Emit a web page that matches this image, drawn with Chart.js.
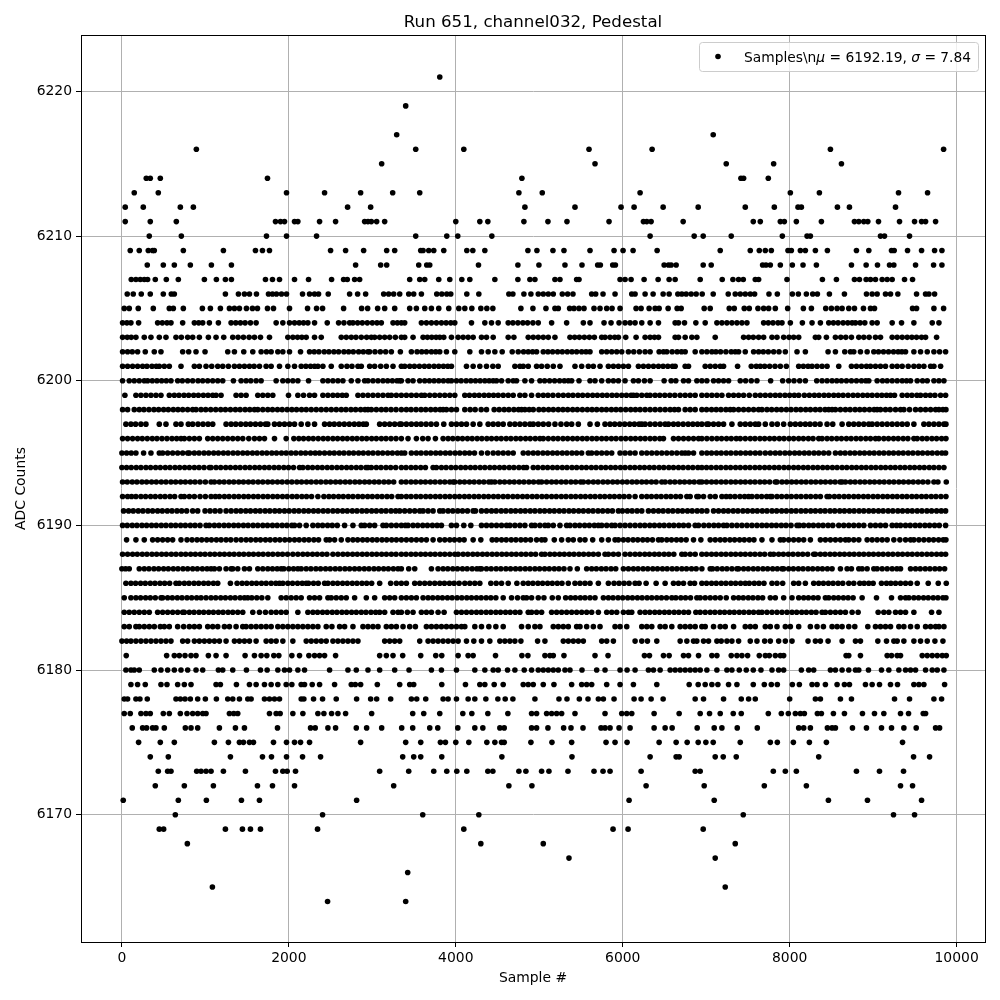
<!DOCTYPE html>
<html>
<head>
<meta charset="utf-8">
<title>Run 651, channel032, Pedestal</title>
<script src="https://cdn.jsdelivr.net/npm/chart.js@4/dist/chart.umd.min.js"></script>
<style>
  html, body { margin: 0; padding: 0; background: #fff; }
  canvas { display: block; }
</style>
</head>
<body>
<canvas id="myChart" width="1000" height="1000"></canvas>
<script>
// sample numbers, one list per ADC level
const adc6221 = [3808];
const adc6219 = [3400];
const adc6217 = [3292, 7084];
const adc6216 = [892, 3520, 4096, 5596, 6352, 8488, 9844];
const adc6215 = [3112, 5668, 7240, 7808, 8620];
const adc6214 = [292, 340, 460, 1744, 4792, 7416, 7448, 7744];
const adc6213 = [148, 436, 1972, 2428, 2860, 3244, 3568, 4756, 5036, 6208, 8008, 8356, 9304, 9652];
const adc6212 = [40, 256, 700, 856, 2704, 2980, 4828, 5428, 5980, 6136, 6484, 6904, 7468, 7816, 8100, 8140, 8572, 8716, 9268];
const adc6211 = [40, 340, 652, 1840, 1900, 1948, 2068, 2108, 2368, 2560, 2908, 2948, 2988, 3052, 3148, 4000, 4288, 4384, 4816, 5104, 5332, 5836, 6248, 6288, 6340, 6724, 7564, 7648, 7888, 7936, 8080, 8380, 8776, 8828, 8888, 8936, 9064, 9316, 9496, 9580, 9628, 9748];
const adc6210 = [328, 712, 1732, 1972, 2332, 3520, 3892, 4024, 4432, 6328, 6856, 6964, 7300, 7912, 8208, 8248, 9088, 9136, 9436];
const adc6209 = [100, 208, 316, 368, 388, 736, 1216, 1600, 1684, 1768, 2500, 2680, 2896, 3172, 3268, 3580, 3608, 3676, 3736, 3856, 4132, 4204, 4348, 4864, 4972, 5164, 5296, 5608, 5896, 6004, 6124, 6412, 7168, 7528, 7636, 7708, 7780, 7980, 8020, 8128, 8188, 8308, 8452, 8800, 8948, 9220, 9252, 9412, 9580, 9736, 9824];
const adc6208 = [304, 496, 628, 820, 1072, 1312, 2800, 3100, 3172, 3556, 3652, 3688, 4272, 4744, 4996, 5308, 5512, 5700, 5732, 5880, 5912, 6496, 6548, 6580, 6640, 6964, 7060, 7676, 7716, 7768, 7888, 8032, 8160, 8320, 8740, 8916, 9052, 9196, 9248, 9508, 9724, 9824];
const adc6207 = [112, 168, 220, 268, 308, 400, 532, 676, 988, 1132, 1240, 1312, 1720, 1804, 1888, 2068, 2236, 2512, 2656, 2700, 2788, 2848, 3448, 3568, 3628, 3796, 3928, 4072, 4168, 4468, 4744, 4888, 4948, 5188, 5248, 5448, 5476, 5968, 6028, 6100, 6256, 6424, 6556, 6628, 6928, 7192, 7320, 7388, 7444, 7588, 7628, 7968, 8392, 8560, 8776, 8836, 8916, 8968, 9028, 9108, 9168, 9228, 9376, 9472];
const adc6206 = [64, 136, 232, 340, 496, 592, 628, 1240, 1396, 1468, 1528, 1612, 1756, 1804, 1852, 1912, 1972, 2164, 2248, 2308, 2356, 2472, 2728, 2824, 2920, 3136, 3196, 3256, 3328, 3436, 3496, 3588, 3772, 3832, 3892, 3940, 4132, 4276, 4636, 4684, 4816, 4900, 4988, 5048, 5108, 5168, 5276, 5340, 5404, 5628, 5676, 5764, 5908, 6108, 6148, 6268, 6364, 6484, 6556, 6660, 6708, 6760, 6820, 6880, 6952, 7084, 7264, 7348, 7408, 7468, 7528, 7580, 7752, 7852, 8032, 8104, 8200, 8276, 8332, 8476, 8656, 8920, 8988, 9048, 9148, 9208, 9296, 9520, 9628, 9668, 9736];
const adc6205 = [28, 88, 196, 376, 568, 616, 736, 964, 1060, 1180, 1288, 1348, 1408, 1492, 1564, 1624, 1744, 1816, 2008, 2224, 2332, 2404, 2656, 2872, 2944, 3064, 3148, 3268, 3448, 3528, 3628, 3708, 3796, 3916, 4036, 4108, 4192, 4300, 4372, 4444, 4780, 4924, 5080, 5188, 5228, 5364, 5416, 5476, 5536, 5656, 5728, 5808, 5872, 5968, 6160, 6220, 6316, 6388, 6436, 6544, 6652, 6700, 6976, 7048, 7276, 7336, 7456, 7516, 7620, 7688, 7748, 7828, 7976, 8164, 8260, 8432, 8500, 8568, 8628, 8708, 8776, 8884, 8968, 9016, 9472, 9520, 9728, 9844];
const adc6204 = [8, 60, 108, 200, 428, 484, 540, 588, 728, 868, 920, 968, 1048, 1156, 1308, 1364, 1420, 1476, 1540, 1608, 1848, 1928, 2008, 2068, 2124, 2176, 2228, 2308, 2460, 2596, 2660, 2728, 2768, 2824, 2880, 2940, 3000, 3056, 3108, 3248, 3300, 3348, 3388, 3588, 3648, 3708, 3768, 3828, 3884, 3940, 3988, 4188, 4348, 4428, 4508, 4628, 4684, 4744, 4804, 4860, 4924, 4988, 5148, 5328, 5528, 5608, 5776, 5860, 5956, 6028, 6088, 6148, 6228, 6328, 6428, 6628, 6668, 6740, 6876, 6988, 7128, 7188, 7248, 7308, 7368, 7428, 7488, 7688, 7744, 7800, 7860, 7908, 8008, 8152, 8268, 8368, 8468, 8524, 8580, 8640, 8696, 8748, 8788, 8844, 8900, 8988, 9048, 9228, 9340, 9488, 9708, 9788];
const adc6203 = [8, 64, 112, 168, 268, 348, 448, 528, 648, 712, 788, 848, 928, 1036, 1128, 1220, 1328, 1392, 1456, 1524, 1588, 1660, 1768, 1988, 2048, 2104, 2156, 2208, 2308, 2388, 2628, 2688, 2748, 2804, 2868, 2932, 2988, 3028, 3088, 3148, 3208, 3276, 3348, 3388, 3488, 3608, 3660, 3712, 3764, 3808, 3856, 3948, 4028, 4088, 4148, 4208, 4308, 4368, 4448, 4628, 4696, 4868, 4928, 4988, 5048, 5108, 5188, 5368, 5424, 5480, 5540, 5600, 5660, 5748, 5788, 5848, 5904, 5948, 6036, 6160, 6268, 6328, 6380, 6428, 6628, 6668, 6748, 6828, 6888, 7108, 7448, 7508, 7564, 7628, 7688, 7788, 7848, 7928, 7992, 8048, 8108, 8308, 8348, 8440, 8548, 8612, 8672, 8740, 8828, 8888, 8952, 9028, 9088, 9228, 9288, 9348, 9408, 9464, 9520, 9580, 9628, 9760];
const adc6202 = [8, 68, 124, 188, 280, 388, 468, 728, 800, 888, 996, 1268, 1348, 1460, 1568, 1668, 1732, 1788, 1868, 1928, 2008, 2140, 2248, 2304, 2360, 2424, 2480, 2540, 2596, 2660, 2716, 2772, 2836, 2892, 2948, 2968, 3032, 3096, 3160, 3228, 3336, 3468, 3536, 3592, 3648, 3708, 3760, 3808, 3888, 3988, 4168, 4308, 4388, 4468, 4556, 4676, 4748, 4812, 4868, 4920, 4968, 5048, 5104, 5160, 5220, 5276, 5336, 5392, 5448, 5508, 5560, 5608, 5748, 5808, 5868, 5928, 5988, 6068, 6132, 6200, 6268, 6328, 6436, 6488, 6528, 6592, 6652, 6704, 6748, 6868, 6948, 7008, 7068, 7116, 7172, 7236, 7300, 7348, 7388, 7468, 7568, 7628, 7684, 7744, 7808, 7872, 7948, 8088, 8188, 8460, 8548, 8660, 8728, 8768, 8848, 8928, 9008, 9064, 9124, 9184, 9244, 9300, 9344, 9388, 9488, 9568, 9648, 9728, 9796, 9868];
const adc6201 = [8, 68, 128, 188, 248, 300, 360, 412, 448, 508, 568, 708, 868, 928, 1008, 1076, 1148, 1208, 1276, 1348, 1408, 1468, 1528, 1584, 1648, 1728, 1788, 1888, 1988, 2068, 2148, 2204, 2260, 2308, 2348, 2408, 2508, 2628, 2696, 2756, 2828, 2868, 2968, 3028, 3100, 3168, 3248, 3348, 3388, 3448, 3504, 3564, 3624, 3680, 3740, 3796, 3852, 3904, 3948, 4128, 4208, 4288, 4368, 4444, 4508, 4708, 4768, 4808, 4868, 4968, 5028, 5096, 5168, 5248, 5428, 5508, 5588, 5648, 5728, 5828, 5888, 5948, 6008, 6068, 6188, 6248, 6308, 6368, 6428, 6484, 6540, 6596, 6628, 6748, 6788, 6988, 7048, 7108, 7168, 7208, 7376, 7540, 7600, 7648, 7700, 7760, 7824, 7888, 7960, 8108, 8164, 8220, 8268, 8328, 8388, 8448, 8588, 8740, 8800, 8860, 8920, 8968, 9028, 9088, 9148, 9228, 9288, 9348, 9420, 9488, 9548, 9608, 9688, 9728, 9808];
const adc6200 = [8, 88, 148, 208, 268, 308, 364, 420, 476, 532, 588, 668, 724, 788, 848, 912, 968, 1028, 1088, 1148, 1208, 1336, 1428, 1488, 1544, 1608, 1668, 1848, 1928, 1988, 2048, 2108, 2236, 2408, 2468, 2528, 2588, 2648, 2748, 2828, 2908, 2948, 3008, 3068, 3128, 3184, 3240, 3296, 3328, 3348, 3428, 3488, 3568, 3628, 3684, 3740, 3796, 3852, 3908, 3948, 4008, 4064, 4124, 4180, 4236, 4292, 4348, 4400, 4448, 4488, 4548, 4628, 4688, 4728, 4828, 4908, 5008, 5064, 5124, 5184, 5244, 5300, 5348, 5388, 5476, 5608, 5668, 5748, 5828, 5888, 5948, 6028, 6128, 6188, 6260, 6328, 6496, 6580, 6636, 6728, 6788, 6888, 6948, 7008, 7088, 7148, 7208, 7268, 7408, 7472, 7540, 7608, 7772, 7916, 7988, 8052, 8120, 8188, 8324, 8388, 8448, 8508, 8564, 8620, 8680, 8740, 8800, 8860, 8912, 8948, 9048, 9112, 9168, 9228, 9288, 9348, 9400, 9448, 9528, 9592, 9648, 9728, 9788, 9848];
const adc6199 = [36, 168, 228, 288, 348, 408, 468, 568, 628, 684, 744, 800, 860, 916, 976, 1032, 1088, 1128, 1188, 1368, 1428, 1488, 1628, 1688, 1748, 1808, 1996, 2108, 2176, 2248, 2308, 2408, 2468, 2528, 2584, 2640, 2688, 2828, 2888, 2948, 3008, 3068, 3128, 3188, 3228, 3288, 3348, 3408, 3468, 3528, 3588, 3628, 3688, 3748, 3808, 3868, 3928, 3988, 4108, 4164, 4224, 4280, 4340, 4396, 4452, 4508, 4568, 4628, 4688, 4768, 4828, 4908, 4988, 5048, 5104, 5164, 5228, 5288, 5348, 5404, 5464, 5520, 5580, 5640, 5696, 5756, 5812, 5872, 5928, 5988, 6044, 6100, 6128, 6168, 6228, 6288, 6328, 6388, 6444, 6504, 6564, 6624, 6688, 6748, 6808, 6868, 6948, 7008, 7068, 7128, 7188, 7268, 7328, 7388, 7448, 7516, 7588, 7648, 7708, 7768, 7828, 7884, 7944, 8000, 8056, 8108, 8176, 8236, 8296, 8352, 8412, 8468, 8528, 8584, 8640, 8700, 8760, 8816, 8876, 8932, 8988, 9048, 9104, 9160, 9208, 9256, 9348, 9408, 9464, 9524, 9568, 9628, 9684, 9740, 9808, 9868];
const adc6198 = [8, 68, 148, 208, 264, 324, 384, 440, 500, 556, 616, 672, 728, 788, 848, 888, 948, 1004, 1064, 1124, 1184, 1240, 1300, 1360, 1416, 1476, 1532, 1588, 1628, 1688, 1748, 1804, 1864, 1920, 1980, 2036, 2092, 2152, 2208, 2268, 2328, 2388, 2448, 2508, 2568, 2628, 2684, 2744, 2800, 2860, 2912, 2948, 2988, 3048, 3108, 3164, 3224, 3284, 3348, 3408, 3464, 3524, 3584, 3640, 3700, 3756, 3812, 3848, 3888, 3948, 4008, 4108, 4172, 4232, 4304, 4368, 4460, 4520, 4580, 4636, 4696, 4752, 4788, 4828, 4880, 4928, 4996, 5052, 5112, 5168, 5228, 5284, 5340, 5400, 5456, 5516, 5576, 5632, 5688, 5748, 5804, 5864, 5920, 5976, 6036, 6096, 6152, 6208, 6268, 6328, 6388, 6448, 6508, 6568, 6620, 6668, 6748, 6808, 6868, 6948, 7004, 7064, 7120, 7176, 7236, 7288, 7328, 7388, 7448, 7508, 7568, 7628, 7668, 7728, 7784, 7844, 7900, 7960, 8016, 8076, 8132, 8192, 8248, 8308, 8364, 8424, 8468, 8508, 8548, 8608, 8668, 8724, 8784, 8840, 8896, 8956, 9012, 9048, 9088, 9148, 9204, 9268, 9328, 9368, 9436, 9508, 9568, 9628, 9688, 9748, 9788, 9836, 9872];
const adc6197 = [48, 108, 164, 228, 288, 448, 528, 648, 708, 796, 848, 912, 972, 1032, 1088, 1248, 1308, 1364, 1424, 1484, 1540, 1600, 1660, 1720, 1748, 1828, 1888, 1948, 2008, 2068, 2148, 2228, 2308, 2428, 2488, 2544, 2604, 2664, 2724, 2784, 2840, 2892, 2928, 3088, 3148, 3208, 3268, 3328, 3348, 3408, 3468, 3528, 3584, 3644, 3704, 3768, 3856, 3948, 4008, 4068, 4128, 4208, 4288, 4388, 4448, 4508, 4568, 4648, 4708, 4768, 4828, 4888, 4928, 4988, 5048, 5112, 5188, 5260, 5328, 5388, 5468, 5608, 5696, 5788, 5848, 5904, 5964, 6024, 6084, 6140, 6196, 6228, 6268, 6328, 6388, 6448, 6508, 6548, 6608, 6664, 6724, 6784, 6840, 6896, 6948, 7008, 7028, 7088, 7148, 7208, 7308, 7408, 7468, 7528, 7588, 7628, 7708, 7788, 7852, 7928, 8008, 8068, 8128, 8188, 8244, 8304, 8364, 8448, 8516, 8628, 8708, 8768, 8828, 8888, 8948, 8988, 9048, 9108, 9168, 9228, 9288, 9348, 9408, 9488, 9608, 9668, 9728, 9788, 9848, 9872];
const adc6196 = [8, 68, 128, 188, 244, 304, 364, 420, 480, 540, 600, 656, 708, 748, 808, 868, 928, 1028, 1088, 1148, 1208, 1268, 1328, 1388, 1448, 1520, 1588, 1648, 1708, 1828, 1968, 2060, 2120, 2176, 2236, 2292, 2352, 2412, 2468, 2528, 2584, 2644, 2700, 2760, 2816, 2876, 2932, 2992, 3048, 3108, 3164, 3224, 3284, 3348, 3428, 3528, 3604, 3668, 3756, 3848, 3908, 3964, 4024, 4080, 4140, 4196, 4256, 4312, 4372, 4428, 4488, 4544, 4604, 4660, 4720, 4776, 4836, 4892, 4952, 5008, 5048, 5108, 5168, 5224, 5284, 5340, 5400, 5456, 5516, 5572, 5632, 5688, 5748, 5804, 5864, 5920, 5980, 6036, 6096, 6152, 6212, 6268, 6328, 6384, 6444, 6488, 6608, 6668, 6728, 6788, 6848, 6908, 6948, 7008, 7068, 7128, 7184, 7244, 7300, 7360, 7408, 7468, 7528, 7584, 7644, 7700, 7760, 7816, 7876, 7932, 7992, 8048, 8108, 8164, 8224, 8280, 8348, 8388, 8448, 8504, 8564, 8620, 8680, 8736, 8796, 8852, 8912, 8968, 9028, 9068, 9128, 9184, 9244, 9300, 9360, 9416, 9488, 9528, 9588, 9644, 9704, 9760, 9820, 9872];
const adc6195 = [0, 56, 112, 168, 260, 348, 448, 488, 548, 608, 668, 728, 788, 808, 868, 924, 984, 1040, 1100, 1156, 1216, 1272, 1332, 1388, 1448, 1504, 1564, 1620, 1680, 1736, 1796, 1852, 1912, 1968, 2028, 2084, 2144, 2200, 2260, 2316, 2368, 2428, 2488, 2544, 2604, 2660, 2720, 2776, 2836, 2892, 2952, 3008, 3068, 3124, 3184, 3240, 3300, 3348, 3388, 3468, 3528, 3584, 3644, 3700, 3760, 3816, 3876, 3932, 3992, 4048, 4108, 4164, 4224, 4308, 4380, 4448, 4508, 4568, 4628, 4688, 4808, 4868, 4928, 4984, 5044, 5100, 5160, 5216, 5276, 5332, 5392, 5448, 5508, 5588, 5628, 5688, 5748, 5808, 5868, 5968, 6028, 6088, 6148, 6228, 6288, 6348, 6408, 6468, 6528, 6588, 6648, 6708, 6748, 6788, 6848, 6948, 7008, 7064, 7124, 7180, 7240, 7296, 7356, 7412, 7472, 7528, 7588, 7644, 7708, 7768, 7828, 7884, 7944, 8000, 8060, 8116, 8176, 8232, 8292, 8348, 8408, 8468, 8548, 8608, 8664, 8724, 8780, 8840, 8896, 8956, 9012, 9072, 9128, 9188, 9244, 9304, 9360, 9420, 9476, 9536, 9592, 9652, 9708, 9768, 9824, 9868];
const adc6194 = [0, 56, 112, 172, 228, 288, 344, 404, 460, 520, 576, 636, 692, 752, 808, 868, 924, 984, 1048, 1068, 1128, 1184, 1244, 1300, 1360, 1416, 1476, 1532, 1592, 1648, 1708, 1764, 1824, 1880, 1940, 1996, 2056, 2128, 2168, 2228, 2284, 2344, 2400, 2460, 2516, 2576, 2632, 2692, 2748, 2808, 2864, 2924, 2948, 2988, 3048, 3104, 3164, 3220, 3280, 3348, 3404, 3464, 3520, 3580, 3636, 3728, 3768, 3828, 3884, 3944, 4000, 4060, 4116, 4176, 4232, 4292, 4348, 4408, 4464, 4524, 4580, 4640, 4696, 4756, 4812, 4848, 4928, 4984, 5044, 5100, 5160, 5216, 5276, 5332, 5392, 5448, 5508, 5564, 5624, 5680, 5740, 5796, 5856, 5912, 5972, 6028, 6088, 6144, 6204, 6260, 6320, 6376, 6436, 6492, 6552, 6608, 6668, 6724, 6784, 6840, 6900, 6948, 7004, 7060, 7120, 7176, 7236, 7292, 7352, 7408, 7468, 7524, 7584, 7640, 7700, 7756, 7816, 7872, 7932, 7988, 8048, 8104, 8164, 8220, 8280, 8336, 8396, 8452, 8512, 8568, 8628, 8684, 8744, 8800, 8860, 8916, 8976, 9032, 9092, 9148, 9208, 9264, 9324, 9380, 9440, 9496, 9556, 9612, 9672, 9728, 9788, 9848];
const adc6193 = [8, 64, 124, 180, 240, 296, 356, 412, 472, 528, 588, 644, 704, 760, 820, 876, 936, 1000, 1068, 1108, 1168, 1224, 1284, 1340, 1400, 1456, 1516, 1572, 1632, 1688, 1748, 1804, 1864, 1920, 1980, 2036, 2096, 2152, 2212, 2268, 2328, 2384, 2444, 2500, 2560, 2616, 2676, 2732, 2792, 2848, 2908, 2964, 3024, 3080, 3140, 3196, 3256, 3348, 3404, 3464, 3520, 3580, 3636, 3696, 3752, 3812, 3868, 3928, 3968, 3988, 4048, 4104, 4164, 4220, 4280, 4336, 4396, 4428, 4468, 4528, 4584, 4644, 4700, 4760, 4816, 4876, 4932, 4992, 5028, 5088, 5148, 5204, 5264, 5320, 5380, 5436, 5496, 5528, 5588, 5648, 5704, 5764, 5820, 5880, 5936, 5996, 6052, 6112, 6168, 6228, 6284, 6344, 6400, 6468, 6508, 6568, 6624, 6684, 6740, 6800, 6856, 6916, 6948, 7004, 7064, 7120, 7180, 7236, 7296, 7352, 7412, 7468, 7528, 7584, 7644, 7700, 7760, 7828, 7848, 7908, 7964, 8024, 8080, 8140, 8196, 8256, 8312, 8372, 8428, 8488, 8544, 8604, 8628, 8668, 8728, 8784, 8844, 8900, 8960, 9016, 9076, 9132, 9192, 9248, 9308, 9364, 9424, 9480, 9540, 9596, 9656, 9728, 9776, 9876];
const adc6192 = [8, 68, 116, 168, 228, 284, 344, 400, 460, 516, 576, 632, 708, 748, 808, 868, 936, 1000, 1068, 1120, 1168, 1228, 1284, 1344, 1400, 1460, 1516, 1576, 1632, 1692, 1748, 1808, 1864, 1924, 1980, 2040, 2096, 2156, 2212, 2272, 2348, 2420, 2480, 2536, 2596, 2652, 2712, 2768, 2828, 2884, 2944, 3000, 3060, 3116, 3176, 3232, 3308, 3348, 3408, 3464, 3524, 3580, 3640, 3696, 3756, 3812, 3872, 3928, 3988, 4044, 4104, 4160, 4220, 4276, 4336, 4392, 4452, 4508, 4568, 4624, 4684, 4740, 4800, 4856, 4916, 4972, 5032, 5088, 5148, 5204, 5264, 5320, 5380, 5436, 5496, 5552, 5612, 5668, 5728, 5784, 5844, 5900, 5960, 6016, 6076, 6148, 6228, 6288, 6344, 6404, 6460, 6520, 6576, 6636, 6692, 6768, 6808, 6888, 6908, 6968, 7048, 7108, 7188, 7240, 7288, 7344, 7404, 7460, 7508, 7548, 7608, 7664, 7724, 7768, 7788, 7848, 7904, 7964, 8020, 8080, 8136, 8196, 8252, 8312, 8368, 8448, 8476, 8536, 8592, 8652, 8708, 8768, 8824, 8884, 8940, 9000, 9056, 9116, 9172, 9232, 9288, 9348, 9404, 9464, 9520, 9580, 9636, 9696, 9752, 9812, 9872];
const adc6191 = [20, 80, 136, 196, 252, 312, 368, 428, 484, 544, 600, 660, 716, 776, 848, 908, 996, 1056, 1116, 1176, 1248, 1308, 1368, 1424, 1484, 1540, 1600, 1656, 1716, 1772, 1832, 1888, 1948, 2004, 2064, 2120, 2180, 2236, 2296, 2352, 2412, 2468, 2528, 2584, 2644, 2700, 2760, 2816, 2876, 2932, 2992, 3048, 3108, 3164, 3224, 3280, 3328, 3388, 3448, 3508, 3568, 3608, 3668, 3728, 3808, 3848, 3908, 3964, 4024, 4080, 4140, 4208, 4236, 4308, 4368, 4428, 4484, 4544, 4600, 4660, 4716, 4776, 4832, 4892, 4948, 5008, 5064, 5124, 5180, 5240, 5296, 5356, 5412, 5472, 5528, 5588, 5644, 5704, 5760, 5820, 5876, 5948, 5996, 6056, 6112, 6172, 6228, 6308, 6368, 6428, 6484, 6544, 6600, 6660, 6716, 6776, 6832, 6892, 6948, 7008, 7088, 7148, 7208, 7264, 7324, 7380, 7440, 7496, 7556, 7612, 7672, 7728, 7788, 7844, 7904, 7960, 8020, 8076, 8136, 8192, 8252, 8308, 8368, 8424, 8484, 8540, 8600, 8656, 8716, 8772, 8832, 8888, 8948, 9004, 9064, 9120, 9180, 9236, 9296, 9352, 9412, 9468, 9528, 9584, 9644, 9700, 9760, 9816, 9868];
const adc6190 = [8, 64, 124, 180, 240, 296, 356, 412, 472, 528, 588, 644, 704, 760, 820, 876, 936, 1008, 1048, 1108, 1164, 1224, 1280, 1340, 1396, 1456, 1512, 1572, 1628, 1688, 1744, 1804, 1860, 1920, 1976, 2036, 2068, 2128, 2208, 2288, 2348, 2404, 2464, 2520, 2580, 2668, 2768, 2868, 2908, 2968, 3028, 3128, 3168, 3228, 3288, 3348, 3396, 3428, 3488, 3544, 3604, 3660, 3720, 3776, 3828, 3948, 4008, 4096, 4180, 4308, 4368, 4428, 4488, 4548, 4608, 4648, 4708, 4768, 4828, 4908, 4948, 5008, 5068, 5108, 5168, 5248, 5328, 5368, 5428, 5484, 5544, 5600, 5660, 5708, 5748, 5808, 5868, 5908, 5968, 6028, 6088, 6148, 6208, 6264, 6324, 6380, 6440, 6496, 6556, 6612, 6672, 6728, 6788, 6868, 6908, 6972, 7032, 7092, 7148, 7208, 7248, 7308, 7368, 7428, 7488, 7548, 7608, 7668, 7724, 7784, 7840, 7900, 7956, 8016, 8088, 8116, 8168, 8228, 8284, 8344, 8400, 8460, 8516, 8588, 8648, 8708, 8768, 8828, 8888, 8968, 9028, 9088, 9148, 9228, 9280, 9328, 9388, 9444, 9504, 9560, 9620, 9676, 9736, 9792, 9868];
const adc6189 = [56, 168, 268, 368, 428, 488, 548, 608, 708, 780, 840, 900, 956, 1016, 1072, 1132, 1188, 1248, 1304, 1368, 1428, 1488, 1544, 1604, 1660, 1720, 1776, 1836, 1892, 1952, 2008, 2068, 2124, 2184, 2240, 2300, 2356, 2448, 2488, 2548, 2628, 2708, 2768, 2824, 2884, 2940, 3000, 3056, 3116, 3172, 3232, 3288, 3348, 3408, 3468, 3528, 3588, 3648, 3728, 3808, 3868, 3928, 3984, 4044, 4100, 4208, 4300, 4436, 4488, 4548, 4604, 4664, 4720, 4780, 4836, 4896, 4968, 5028, 5068, 5180, 5268, 5348, 5408, 5488, 5548, 5640, 5748, 5828, 5908, 5948, 6008, 6064, 6124, 6180, 6240, 6296, 6356, 6428, 6468, 6528, 6584, 6644, 6700, 6760, 6848, 6936, 7048, 7108, 7168, 7224, 7284, 7340, 7400, 7456, 7516, 7572, 7668, 7788, 7888, 7928, 7988, 8048, 8108, 8168, 8248, 8368, 8428, 8488, 8548, 8608, 8668, 8708, 8768, 8828, 8928, 8988, 9048, 9108, 9168, 9248, 9320, 9388, 9448, 9488, 9548, 9608, 9668, 9724, 9784, 9840, 9872];
const adc6188 = [8, 68, 128, 184, 244, 300, 360, 416, 476, 532, 592, 648, 708, 764, 824, 880, 940, 996, 1056, 1112, 1172, 1228, 1288, 1344, 1404, 1460, 1520, 1576, 1636, 1692, 1752, 1808, 1868, 1924, 1984, 2048, 2108, 2168, 2224, 2284, 2340, 2400, 2456, 2528, 2588, 2648, 2704, 2764, 2820, 2880, 2936, 2996, 3052, 3112, 3168, 3228, 3284, 3348, 3404, 3464, 3520, 3580, 3636, 3696, 3752, 3812, 3868, 3928, 3988, 4028, 4088, 4144, 4204, 4260, 4320, 4376, 4436, 4492, 4552, 4608, 4668, 4724, 4784, 4840, 4900, 4956, 5028, 5068, 5128, 5184, 5244, 5300, 5360, 5416, 5476, 5532, 5592, 5648, 5708, 5788, 5828, 5888, 5948, 6028, 6088, 6148, 6204, 6264, 6320, 6380, 6436, 6496, 6552, 6612, 6708, 6748, 6808, 6868, 6948, 7004, 7064, 7120, 7180, 7236, 7296, 7352, 7412, 7468, 7528, 7584, 7644, 7700, 7768, 7808, 7868, 7924, 7984, 8040, 8100, 8156, 8216, 8288, 8308, 8368, 8424, 8484, 8540, 8600, 8656, 8716, 8772, 8832, 8888, 8948, 9004, 9064, 9120, 9180, 9236, 9296, 9352, 9412, 9468, 9528, 9584, 9644, 9700, 9760, 9816, 9868];
const adc6187 = [0, 44, 88, 208, 268, 324, 384, 440, 500, 556, 616, 672, 732, 788, 848, 904, 964, 1020, 1068, 1108, 1168, 1248, 1308, 1328, 1388, 1468, 1528, 1628, 1688, 1748, 1804, 1860, 1908, 1940, 2000, 2056, 2108, 2148, 2208, 2264, 2324, 2380, 2440, 2496, 2556, 2612, 2672, 2728, 2788, 2844, 2904, 2960, 3020, 3076, 3136, 3192, 3252, 3308, 3348, 3436, 3508, 3708, 3788, 3848, 3904, 3964, 4020, 4080, 4136, 4196, 4252, 4288, 4308, 4368, 4424, 4484, 4540, 4600, 4656, 4716, 4772, 4832, 4888, 4948, 5004, 5064, 5120, 5180, 5236, 5296, 5368, 5456, 5568, 5628, 5684, 5744, 5800, 5860, 5916, 6008, 6068, 6128, 6184, 6244, 6300, 6360, 6416, 6476, 6532, 6592, 6648, 6708, 6764, 6824, 6880, 6948, 7048, 7076, 7132, 7192, 7248, 7308, 7368, 7388, 7448, 7504, 7564, 7620, 7680, 7736, 7796, 7852, 7908, 7928, 7988, 8044, 8104, 8160, 8220, 8276, 8336, 8392, 8452, 8508, 8608, 8688, 8740, 8828, 8868, 8928, 9008, 9048, 9108, 9168, 9228, 9284, 9328, 9448, 9508, 9564, 9624, 9680, 9740, 9796, 9856];
const adc6186 = [48, 108, 164, 224, 280, 340, 396, 456, 512, 572, 648, 688, 748, 804, 864, 920, 980, 1036, 1096, 1148, 1300, 1380, 1440, 1496, 1556, 1612, 1672, 1728, 1788, 1844, 1888, 1928, 1988, 2044, 2104, 2160, 2208, 2236, 2296, 2352, 2428, 2468, 2528, 2584, 2644, 2700, 2760, 2816, 2876, 2932, 2992, 3088, 3220, 3288, 3348, 3408, 3508, 3568, 3628, 3688, 3748, 3808, 3864, 3924, 3980, 4040, 4108, 4168, 4228, 4288, 4420, 4484, 4548, 4628, 4732, 4808, 4868, 4924, 4984, 5040, 5100, 5156, 5216, 5272, 5348, 5428, 5488, 5548, 5608, 5708, 5828, 5896, 5956, 6016, 6076, 6148, 6196, 6280, 6400, 6508, 6608, 6668, 6728, 6808, 6860, 6948, 7004, 7064, 7120, 7180, 7236, 7296, 7352, 7412, 7468, 7516, 7576, 7632, 7692, 7788, 7848, 7916, 8048, 8108, 8188, 8288, 8348, 8404, 8464, 8520, 8580, 8636, 8708, 8768, 8840, 8892, 8948, 9000, 9100, 9160, 9212, 9268, 9328, 9388, 9448, 9528, 9660, 9780, 9876];
const adc6185 = [28, 108, 168, 224, 284, 340, 400, 468, 488, 548, 604, 664, 720, 780, 836, 896, 948, 1008, 1068, 1124, 1184, 1240, 1300, 1356, 1416, 1468, 1508, 1556, 1616, 1676, 1748, 1908, 1968, 2028, 2088, 2148, 2248, 2308, 2368, 2468, 2508, 2568, 2628, 2688, 2788, 2928, 3028, 3148, 3208, 3268, 3348, 3408, 3468, 3528, 3608, 3668, 3724, 3784, 3840, 3900, 3956, 4016, 4072, 4132, 4188, 4248, 4304, 4364, 4420, 4480, 4568, 4668, 4740, 4808, 4848, 4908, 4988, 5056, 5156, 5228, 5316, 5376, 5432, 5492, 5548, 5608, 5668, 5768, 5828, 5884, 5944, 6000, 6060, 6116, 6176, 6232, 6292, 6348, 6408, 6464, 6524, 6588, 6636, 6696, 6752, 6812, 6888, 6928, 6988, 7048, 7108, 7168, 7240, 7328, 7388, 7444, 7504, 7560, 7620, 7676, 7768, 7828, 7928, 8028, 8108, 8168, 8224, 8284, 8340, 8428, 8468, 8528, 8584, 8644, 8700, 8760, 8868, 9040, 9220, 9328, 9388, 9428, 9488, 9544, 9604, 9660, 9720, 9776, 9836, 9872];
const adc6184 = [28, 88, 148, 208, 268, 328, 428, 488, 548, 608, 668, 728, 748, 808, 864, 924, 980, 1040, 1096, 1156, 1212, 1272, 1328, 1388, 1448, 1568, 1648, 1720, 1788, 1848, 1908, 1968, 2108, 2228, 2288, 2344, 2404, 2460, 2520, 2576, 2636, 2692, 2752, 2808, 2868, 2924, 2984, 3040, 3088, 3148, 3248, 3308, 3348, 3420, 3488, 3588, 3648, 3708, 3788, 3860, 4008, 4068, 4128, 4188, 4248, 4304, 4364, 4420, 4480, 4536, 4596, 4652, 4712, 4768, 4868, 4908, 4968, 5028, 5148, 5208, 5268, 5328, 5388, 5448, 5508, 5568, 5628, 5708, 5808, 5868, 5928, 6008, 6068, 6108, 6208, 6268, 6324, 6384, 6440, 6500, 6556, 6616, 6672, 6732, 6788, 6876, 6928, 6988, 7048, 7104, 7164, 7220, 7280, 7336, 7396, 7452, 7512, 7568, 7628, 7668, 7728, 7788, 7848, 7908, 7968, 8028, 8084, 8144, 8200, 8260, 8316, 8388, 8428, 8488, 8548, 8608, 8668, 8748, 8820, 9060, 9128, 9188, 9268, 9328, 9388, 9488, 9700, 9788];
const adc6183 = [28, 88, 168, 208, 268, 328, 388, 460, 508, 568, 668, 740, 808, 868, 928, 1028, 1088, 1148, 1228, 1288, 1368, 1448, 1488, 1548, 1608, 1668, 1728, 1788, 1868, 1928, 1988, 2048, 2108, 2168, 2228, 2288, 2348, 2448, 2516, 2608, 2668, 2768, 2888, 2948, 3008, 3068, 3168, 3228, 3288, 3368, 3448, 3516, 3648, 3708, 3768, 3828, 3888, 3948, 4008, 4068, 4108, 4228, 4308, 4396, 4480, 4568, 4788, 4868, 4948, 5008, 5168, 5228, 5288, 5348, 5448, 5488, 5568, 5648, 5728, 5908, 5968, 6048, 6228, 6288, 6348, 6448, 6508, 6588, 6688, 6748, 6808, 6868, 6948, 6988, 7088, 7168, 7228, 7328, 7468, 7528, 7588, 7708, 7768, 7848, 7948, 8008, 8108, 8248, 8328, 8404, 8508, 8568, 8628, 8708, 8780, 8936, 9028, 9088, 9148, 9208, 9308, 9368, 9448, 9528, 9628, 9688, 9748, 9788, 9848];
const adc6182 = [0, 56, 108, 168, 228, 288, 348, 408, 468, 528, 588, 728, 788, 868, 928, 988, 1048, 1108, 1168, 1248, 1348, 1408, 1468, 1528, 1608, 1728, 1788, 1848, 1928, 2048, 2208, 2268, 2328, 2388, 2448, 2528, 2588, 2648, 2708, 2768, 2828, 3148, 3208, 3268, 3328, 3568, 3668, 3728, 3788, 3848, 3908, 3968, 4028, 4128, 4216, 4308, 4408, 4528, 4588, 4648, 4708, 4780, 4980, 5068, 5288, 5348, 5408, 5468, 5528, 5748, 5808, 5888, 6148, 6228, 6296, 6408, 6688, 6768, 6848, 6888, 6968, 7028, 7128, 7180, 7248, 7308, 7388, 7528, 7608, 7700, 7768, 7868, 7948, 8028, 8220, 8308, 8368, 8460, 8628, 8788, 8848, 9056, 9160, 9248, 9288, 9368, 9488, 9568, 9648, 9740, 9836];
const adc6181 = [52, 536, 628, 688, 756, 828, 888, 1036, 1128, 1248, 1476, 1588, 1668, 1736, 1820, 1880, 2036, 2128, 2240, 2308, 2368, 2428, 2560, 3088, 3168, 3248, 3364, 3580, 3760, 3832, 4028, 4148, 4208, 4476, 4792, 4864, 5068, 5128, 5168, 5296, 5668, 5824, 6260, 6320, 6488, 6556, 6728, 6788, 6908, 7068, 7128, 7300, 7368, 7428, 7496, 7636, 7708, 7756, 7828, 7888, 7928, 8676, 8708, 8848, 9168, 9220, 9288, 9328, 9588, 9648, 9708, 9768, 9828, 9876];
const adc6180 = [48, 108, 148, 208, 388, 468, 548, 628, 708, 788, 888, 968, 1156, 1208, 1328, 1492, 1660, 1740, 1868, 1948, 2008, 2108, 2188, 2488, 2708, 2808, 2948, 3088, 3268, 3440, 3708, 3828, 4008, 4228, 4348, 4448, 4508, 4620, 4708, 4820, 4908, 4988, 5048, 5108, 5168, 5228, 5308, 5368, 5512, 5688, 5788, 5968, 6052, 6148, 6308, 6368, 6448, 6568, 6628, 6688, 6748, 6808, 6868, 6928, 7008, 7128, 7248, 7308, 7396, 7480, 7564, 7656, 7788, 7868, 7928, 8140, 8228, 8288, 8488, 8548, 8628, 8708, 8788, 8828, 8944, 9100, 9188, 9308, 9388, 9448, 9508, 9628, 9708, 9768, 9848];
const adc6179 = [108, 188, 280, 468, 540, 668, 748, 828, 1128, 1180, 1372, 1528, 1608, 1708, 1788, 1868, 1968, 2036, 2148, 2188, 2280, 2368, 2548, 2748, 2796, 2860, 3060, 3328, 3448, 3496, 3832, 4116, 4288, 4348, 4460, 4568, 4808, 4868, 4928, 5048, 5176, 5388, 5508, 5568, 5628, 5808, 5968, 6128, 6408, 6796, 6904, 6988, 7068, 7140, 7268, 7368, 7564, 7696, 7780, 7852, 8032, 8116, 8268, 8328, 8428, 8568, 8656, 8716, 8908, 8988, 9076, 9208, 9292, 9488, 9548, 9608, 9856];
const adc6178 = [28, 68, 168, 216, 304, 648, 700, 756, 820, 908, 1000, 1132, 1268, 1328, 1408, 1508, 1548, 1708, 1768, 1828, 1888, 2148, 2180, 2296, 2404, 2568, 2812, 2980, 3052, 3220, 3468, 3532, 3640, 3848, 3908, 4008, 4148, 4228, 4360, 4504, 4592, 4684, 4948, 5236, 5332, 5480, 5584, 5708, 5768, 5896, 6136, 6220, 6340, 6484, 6868, 6968, 7208, 7420, 7508, 7588, 8000, 8308, 8368, 8608, 8740, 9256, 9436, 9728, 9820];
const adc6177 = [28, 100, 228, 288, 340, 496, 568, 700, 780, 848, 908, 968, 1008, 1288, 1340, 1388, 1768, 1848, 1896, 2048, 2168, 2348, 2420, 2512, 2588, 2680, 2992, 3484, 3616, 3808, 4084, 4192, 4384, 4624, 4908, 4968, 5088, 5148, 5208, 5268, 5428, 5788, 5988, 6048, 6108, 6376, 6676, 6928, 7040, 7168, 7324, 7420, 7744, 7900, 7984, 8068, 8128, 8176, 8332, 8380, 8524, 8656, 8872, 9016, 9128, 9328, 9424, 9600, 9628];
const adc6176 = [124, 248, 296, 368, 408, 508, 760, 828, 908, 1168, 1360, 1468, 1864, 2260, 2316, 2468, 2560, 2808, 2932, 3112, 3352, 3484, 3688, 3784, 4024, 4228, 4324, 4528, 4580, 4908, 4968, 5104, 5292, 5380, 5524, 5740, 5788, 5848, 5956, 6088, 6376, 6508, 6592, 6892, 7096, 7188, 7372, 7612, 8108, 8168, 8248, 8452, 8508, 8548, 8752, 8920, 9100, 9220, 9368, 9516, 9748, 9796];
const adc6175 = [200, 460, 628, 1108, 1276, 1408, 1456, 1528, 1576, 1816, 1972, 2068, 2140, 2248, 2860, 3400, 3580, 3816, 3876, 4000, 4156, 4372, 4468, 4548, 4580, 4900, 5152, 5388, 5800, 5908, 6052, 6436, 6640, 6772, 6904, 6996, 7084, 7408, 7768, 7852, 8044, 8236, 8440, 9352];
const adc6174 = [340, 556, 1300, 1684, 1792, 1972, 2164, 2380, 3364, 3496, 3580, 3832, 4552, 5392, 6328, 6640, 6676, 7108, 7204, 7360, 8348, 9484, 9676];
const adc6173 = [436, 548, 588, 896, 948, 1008, 1068, 1216, 1480, 1840, 1928, 1980, 2080, 3088, 3436, 3736, 3892, 4012, 4132, 4384, 4444, 4756, 4840, 5028, 5116, 5344, 5656, 5764, 5848, 6220, 6868, 6928, 7804, 7948, 8080, 8800, 9076, 9364];
const adc6172 = [400, 748, 1096, 1624, 1804, 2068, 3256, 4636, 4912, 6280, 6976, 7696, 8200, 9328, 9472];
const adc6171 = [16, 676, 1012, 1432, 1648, 2812, 6076, 7096, 8464, 8932, 9580];
const adc6170 = [640, 2404, 3604, 4276, 7444, 9244, 9496];
const adc6169 = [448, 500, 1240, 1444, 1540, 1660, 2344, 4096, 5884, 6064, 6964];
const adc6168 = [784, 4300, 5048, 7348];
const adc6167 = [5356, 7108];
const adc6166 = [3424];
const adc6165 = [1084, 7228];
const adc6164 = [2464, 3400];

const adcLevels = [6221, 6219, 6217, 6216, 6215, 6214, 6213, 6212, 6211, 6210, 6209, 6208, 6207, 6206, 6205, 6204, 6203, 6202, 6201, 6200, 6199, 6198, 6197, 6196, 6195, 6194, 6193, 6192, 6191, 6190, 6189, 6188, 6187, 6186, 6185, 6184, 6183, 6182, 6181, 6180, 6179, 6178, 6177, 6176, 6175, 6174, 6173, 6172, 6171, 6170, 6169, 6168, 6167, 6166, 6165, 6164];
const adcSamples = [adc6221, adc6219, adc6217, adc6216, adc6215, adc6214, adc6213, adc6212, adc6211, adc6210, adc6209, adc6208, adc6207, adc6206, adc6205, adc6204, adc6203, adc6202, adc6201, adc6200, adc6199, adc6198, adc6197, adc6196, adc6195, adc6194, adc6193, adc6192, adc6191, adc6190, adc6189, adc6188, adc6187, adc6186, adc6185, adc6184, adc6183, adc6182, adc6181, adc6180, adc6179, adc6178, adc6177, adc6176, adc6175, adc6174, adc6173, adc6172, adc6171, adc6170, adc6169, adc6168, adc6167, adc6166, adc6165, adc6164];

const xTickValues = [0, 2000, 4000, 6000, 8000, 10000];
const yTickValues = [6170, 6180, 6190, 6200, 6210, 6220];
const chartTitle = "Run 651, channel032, Pedestal";
const xTitle = "Sample #";
const yTitle = "ADC Counts";

const fontName = '"DejaVu Sans", sans-serif';

const points = [];
for (let i = 0; i < adcLevels.length; i++) {
  for (let j = 0; j < adcSamples[i].length; j++) {
    points.push({ x: adcSamples[i][j], y: adcLevels[i] });
  }
}

// top/right spines and the matplotlib style legend box
const frameAndLegend = {
  id: "frameAndLegend",
  afterDraw(chart) {
    const ctx = chart.ctx;
    const a = chart.chartArea;
    ctx.save();
    ctx.strokeStyle = "#000";
    ctx.lineWidth = 1;
    ctx.strokeRect(Math.round(a.left) + 0.5, Math.round(a.top) + 0.5, Math.round(a.right - a.left), Math.round(a.bottom - a.top));

    ctx.globalAlpha = 0.8;
    ctx.fillStyle = "#fff";
    ctx.strokeStyle = "#ccc";
    ctx.beginPath();
    ctx.roundRect(699.5, 42.5, 279, 29, 3);
    ctx.fill();
    ctx.globalAlpha = 1;
    ctx.stroke();

    ctx.fillStyle = "#000";
    ctx.beginPath();
    ctx.arc(718, 56.5, 2.8, 0, Math.PI * 2);
    ctx.fill();

    ctx.textBaseline = "alphabetic";
    ctx.textAlign = "left";
    let x = 744;
    const parts = [["Samples\\n", false], ["μ", true], [" = 6192.19, ", false], ["σ", true], [" = 7.84", false]];
    parts.forEach(function (p) {
      ctx.font = (p[1] ? "italic " : "") + "13.8px " + fontName;
      ctx.fillText(p[0], x, 61.5);
      x += ctx.measureText(p[0]).width;
    });
    ctx.restore();
  }
};

new Chart(document.getElementById("myChart"), {
  type: "scatter",
  data: {
    datasets: [{
      label: "Samples",
      data: points,
      backgroundColor: "#000",
      borderColor: "#000",
      pointRadius: 2.8,
      pointBorderWidth: 0,
      showLine: false
    }]
  },
  options: {
    responsive: false,
    animation: false,
    layout: { padding: { top: 0, right: 15, bottom: 0, left: 0 } },
    plugins: {
      legend: { display: false },
      tooltip: { enabled: false },
      title: {
        display: true,
        text: chartTitle,
        color: "#000",
        fullSize: false,
        font: { family: fontName, size: 16.67, weight: "normal" },
        padding: { top: 13, bottom: 2 }
      }
    },
    scales: {
      x: {
        type: "linear",
        min: -490,
        max: 10340,
        afterBuildTicks: (s) => { s.ticks = xTickValues.map((v) => ({ value: v })); },
        afterFit: (s) => { s.height = 58; },
        grid: { color: "#b0b0b0", lineWidth: 1, tickColor: "#000", tickLength: 5 },
        border: { color: "#000" },
        ticks: {
          color: "#000", padding: 3, maxRotation: 0,
          font: { family: fontName, size: 13.9 },
          callback: (v) => String(v)
        },
        title: {
          display: true, text: xTitle, color: "#000",
          font: { family: fontName, size: 13.9 },
          padding: { top: 0, bottom: 13 }
        }
      },
      y: {
        type: "linear",
        min: 6161.2,
        max: 6223.9,
        afterBuildTicks: (s) => { s.ticks = yTickValues.map((v) => ({ value: v })); },
        afterFit: (s) => { s.width = 81; },
        grid: { color: "#b0b0b0", lineWidth: 1, tickColor: "#000", tickLength: 5 },
        border: { color: "#000" },
        ticks: {
          color: "#000", padding: 4,
          font: { family: fontName, size: 13.9 },
          callback: (v) => String(v)
        },
        title: {
          display: true, text: yTitle, color: "#000",
          font: { family: fontName, size: 13.9 },
          padding: { top: 13, bottom: 0 }
        }
      }
    }
  },
  plugins: [frameAndLegend]
});
</script>
</body>
</html>
